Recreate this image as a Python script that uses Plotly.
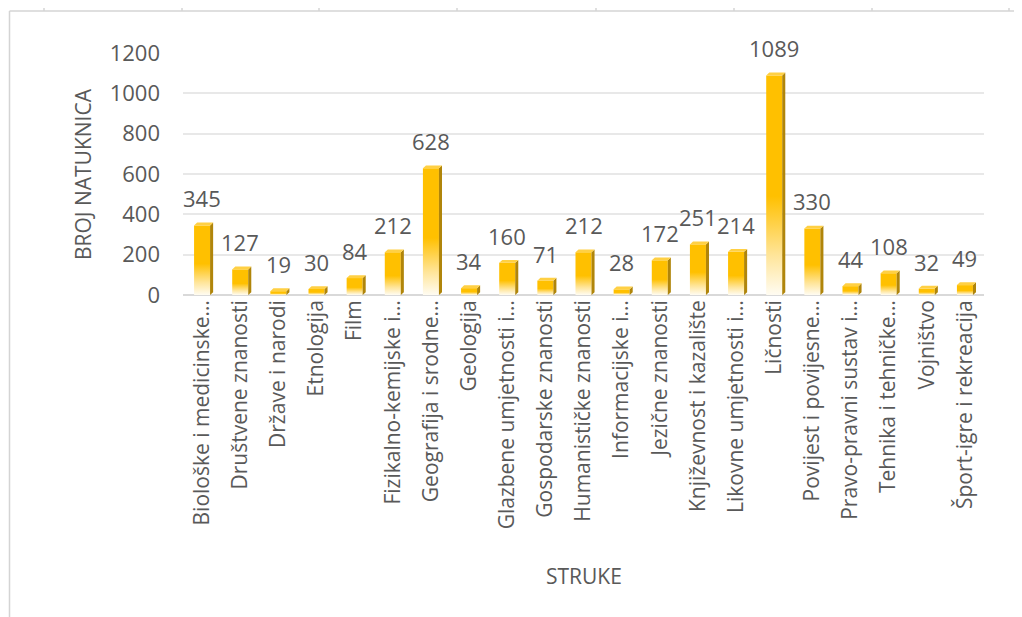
import plotly.graph_objects as go

categories = [
    "Biološke i medicinske…", "Društvene znanosti", "Države i narodi", "Etnologija",
    "Film", "Fizikalno-kemijske i…", "Geografija i srodne…", "Geologija",
    "Glazbene umjetnosti i…", "Gospodarske znanosti", "Humanističke znanosti",
    "Informacijske i…", "Jezične znanosti", "Književnost i kazalište",
    "Likovne umjetnosti i…", "Ličnosti", "Povijest i povijesne…",
    "Pravo-pravni sustav i…", "Tehnika i tehničke…", "Vojništvo", "Šport-igre i rekreacija",
]
values = [345, 127, 19, 30, 84, 212, 628, 34, 160, 71, 212, 28, 172, 251, 214, 1089, 330, 44, 108, 32, 49]
y_ticks = [0, 200, 400, 600, 800, 1000, 1200]

FONT = "Open Sans"
TXT = "#595959"
HALF = 0.21      # half width of the front face (category units)
DX = 0.08        # depth offset (category units)
DY = 14          # depth offset (value units)

fig = go.Figure()

# front faces with vertical gradient
for i, v in enumerate(values):
    fig.add_trace(go.Scatter(
        x=[i - HALF, i + HALF, i + HALF, i - HALF, i - HALF],
        y=[0, 0, v, v, 0],
        mode="lines", line=dict(width=0), fill="toself",
        fillgradient=dict(type="vertical", start=0, stop=v,
                          colorscale=[[0, "#fffcf2"], [0.18, "#ffe59a"], [0.45, "#ffc000"], [1, "#ffc000"]]),
        hoverinfo="skip", showlegend=False,
    ))

# side faces
sx, sy = [], []
for i, v in enumerate(values):
    sx += [i + HALF, i + HALF + DX, i + HALF + DX, i + HALF, i + HALF, None]
    sy += [0, DY, v + DY, v, 0, None]
fig.add_trace(go.Scatter(x=sx, y=sy, mode="lines", line=dict(width=0), fill="toself",
                         fillcolor="#b0850a", hoverinfo="skip", showlegend=False))

# top faces
tx, ty = [], []
for i, v in enumerate(values):
    tx += [i - HALF, i + HALF, i + HALF + DX, i - HALF + DX, i - HALF, None]
    ty += [v, v, v + DY, v + DY, v, None]
fig.add_trace(go.Scatter(x=tx, y=ty, mode="lines", line=dict(width=0), fill="toself",
                         fillcolor="#ffd044", hoverinfo="skip", showlegend=False))

# data labels
for i, v in enumerate(values):
    fig.add_annotation(x=i, y=v, text=str(v), showarrow=False, yanchor="bottom",
                       yshift=10, font=dict(family=FONT, size=22, color=TXT))

# axis titles
fig.add_annotation(xref="paper", yref="paper", x=0, y=0.5, xshift=-100, xanchor="center",
                   yanchor="middle", text="BROJ NATUKNICA",
                   textangle=-90, showarrow=False, font=dict(family=FONT, size=21, color=TXT))
fig.add_annotation(xref="paper", yref="paper", x=0.5, y=0, yshift=-281, xanchor="center",
                   yanchor="middle", text="STRUKE",
                   showarrow=False, font=dict(family=FONT, size=21, color=TXT))

# frame decoration (worksheet borders)
fig.add_shape(type="line", xref="paper", yref="paper", x0=-173.5/801, x1=1.06, y0=1 + 42/242, y1=1 + 42/242,
              line=dict(color="#d4d4d4", width=1.5))
fig.add_shape(type="line", xref="paper", yref="paper", x0=-173.5/801, x1=-173.5/801, y0=-1.4, y1=1 + 42/242,
              line=dict(color="#d4d4d4", width=1.5))
for px in [44, 182, 319, 457, 596, 734, 872, 1009]:
    xp = (px - 183) / 801
    fig.add_shape(type="line", xref="paper", yref="paper", x0=xp, x1=xp, y0=1 + 42/242, y1=1 + 48/242,
                  line=dict(color="#d4d4d4", width=1.5))

fig.update_layout(
    width=1014, height=609,
    margin=dict(l=175, r=38, t=45, b=322),
    paper_bgcolor="white", plot_bgcolor="white",
    font=dict(family=FONT, color=TXT),
    showlegend=False,
    xaxis=dict(
        range=[-0.5, len(categories) - 0.5],
        tickmode="array", tickvals=list(range(len(categories))), ticktext=categories,
        tickangle=-90, tickfont=dict(family=FONT, size=21, color=TXT),
        showgrid=False, zeroline=False, showline=False, ticks="",
    ),
    yaxis=dict(
        range=[0, 1200], tickmode="array", tickvals=y_ticks,
        tickfont=dict(family=FONT, size=22, color=TXT),
        showgrid=True, gridcolor="#e8e8e8", gridwidth=1.5,
        zeroline=True, zerolinecolor="#d9d9d9", zerolinewidth=1.5,
        ticklabelstandoff=22,
    ),
)

fig.write_html("out.html")
